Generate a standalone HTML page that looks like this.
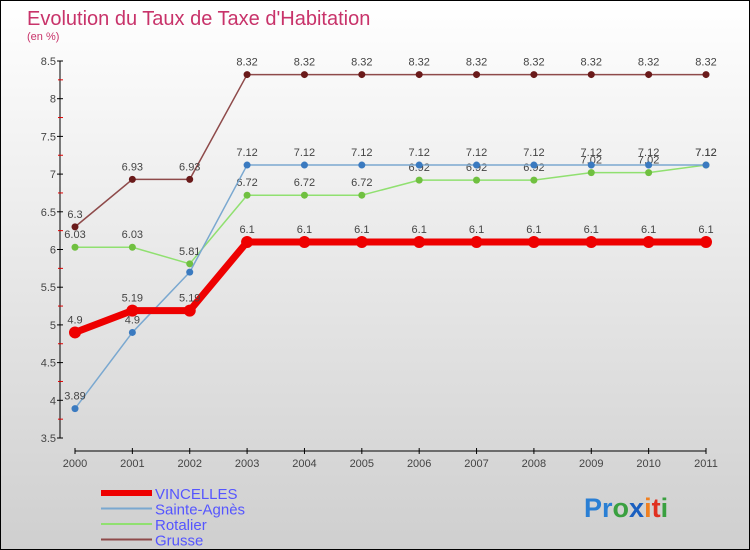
<!DOCTYPE html>
<html><head><meta charset="utf-8"><style>
body{margin:0}
#c{width:748px;height:548px;border:1px solid #000;background:linear-gradient(#fff,#cfcfcf);position:relative;font-family:"Liberation Sans",sans-serif;overflow:hidden}
svg text{font-family:"Liberation Sans",sans-serif}
</style></head><body>
<div id="c">
<svg id="s" width="748" height="548">
<text x="26" y="24" font-size="20" fill="#c8336a">Evolution du Taux de Taxe d'Habitation</text>
<text x="26" y="39" font-size="11" fill="#c8336a">(en %)</text>
<text x="583" y="516" font-size="27" font-weight="bold"><tspan fill="#2a7fd4">Pr</tspan><tspan fill="#3aa040">o</tspan><tspan fill="#1a5fc0">x</tspan><tspan fill="#f08020">i</tspan><tspan fill="#e03020">t</tspan><tspan fill="#3aa040">i</tspan></text>
</svg>
</div>
<script>
const years=[2000,2001,2002,2003,2004,2005,2006,2007,2008,2009,2010,2011];
const yTicks=[3.5,4,4.5,5,5.5,6,6.5,7,7.5,8,8.5];
const vincelles=[4.9,5.19,5.19,6.1,6.1,6.1,6.1,6.1,6.1,6.1,6.1,6.1];
const sainteAgnes=[3.89,4.9,5.7,7.12,7.12,7.12,7.12,7.12,7.12,7.12,7.12,7.12];
const rotalier=[6.03,6.03,5.81,6.72,6.72,6.72,6.92,6.92,6.92,7.02,7.02,7.12];
const grusse=[6.3,6.93,6.93,8.32,8.32,8.32,8.32,8.32,8.32,8.32,8.32,8.32];
const ns="http://www.w3.org/2000/svg",s=document.getElementById('s');
const X=i=>74+i*(631/11), Y=v=>437-(v-3.5)*75.4;
function el(t,a,p){const e=document.createElementNS(ns,t);for(const k in a)e.setAttribute(k,a[k]);(p||s).appendChild(e);return e;}
let ax=el('line',{x1:59,y1:Y(8.5),x2:59,y2:Y(3.5),stroke:'#000'});


for(let v=3.5;v<=8.5001;v+=0.25){const major=Math.abs(v*2-Math.round(v*2))<1e-6;
 el('line',{x1:major?56:57,y1:Y(v),x2:62,y2:Y(v),stroke:major?'#000':'#d00'});}
yTicks.forEach(v=>{const t=el('text',{x:55,y:Y(v)+4,'font-size':11,fill:'#444','text-anchor':'end'});t.textContent=v;
 
 });
let xa=el('line',{x1:74,y1:450,x2:705,y2:450,stroke:'#000'});


years.forEach((y,i)=>{el('line',{x1:X(i),y1:447,x2:X(i),y2:453,stroke:'#000'});
 const t=el('text',{x:X(i),y:466,'font-size':11,fill:'#444','text-anchor':'middle'});t.textContent=y;
 
 });
function series(d,col,w,r,name,dotcol,skip){
 const g=el('g',{});
 
 
 el('polyline',{points:d.map((v,i)=>X(i)+','+Y(v)).join(' '),fill:'none',stroke:col,'stroke-width':w,'stroke-linejoin':'round'},g);
 d.forEach((v,i)=>{const c=el('circle',{cx:X(i),cy:Y(v),r:r,fill:dotcol},g);
  
  
  if(skip&&skip.includes(i))return;
  const t=el('text',{x:X(i),y:Y(v)-9,'font-size':11,fill:'#444','text-anchor':'middle'},g);t.textContent=v;
  
  });
}
series(grusse,'#8e4a4a',1.5,3.5,'grusse','#6a1a1a');
series(rotalier,'#90e070',1.5,3.5,'rotalier','#70c040');
series(sainteAgnes,'#7aa8d0',1.5,3.5,'sainte-agnes','#3a7ac0',[2]);
series(vincelles,'#ee0000',7,6,'vincelles','#ee0000');
const leg=[['VINCELLES','#ee0000',6],['Sainte-Agnès','#7aa8d0',2],['Rotalier','#90e070',2],['Grusse','#8e4a4a',2]];
leg.forEach((l,i)=>{const y=492+i*15.5;
 const g=el('g',{});
 
 
 el('line',{x1:100,y1:y,x2:151,y2:y,stroke:l[1],'stroke-width':l[2]},g);
 const t=el('text',{x:154,y:y+6,'font-size':15,fill:'#5555ff'},g);t.textContent=l[0];});
</script>
</body></html>
